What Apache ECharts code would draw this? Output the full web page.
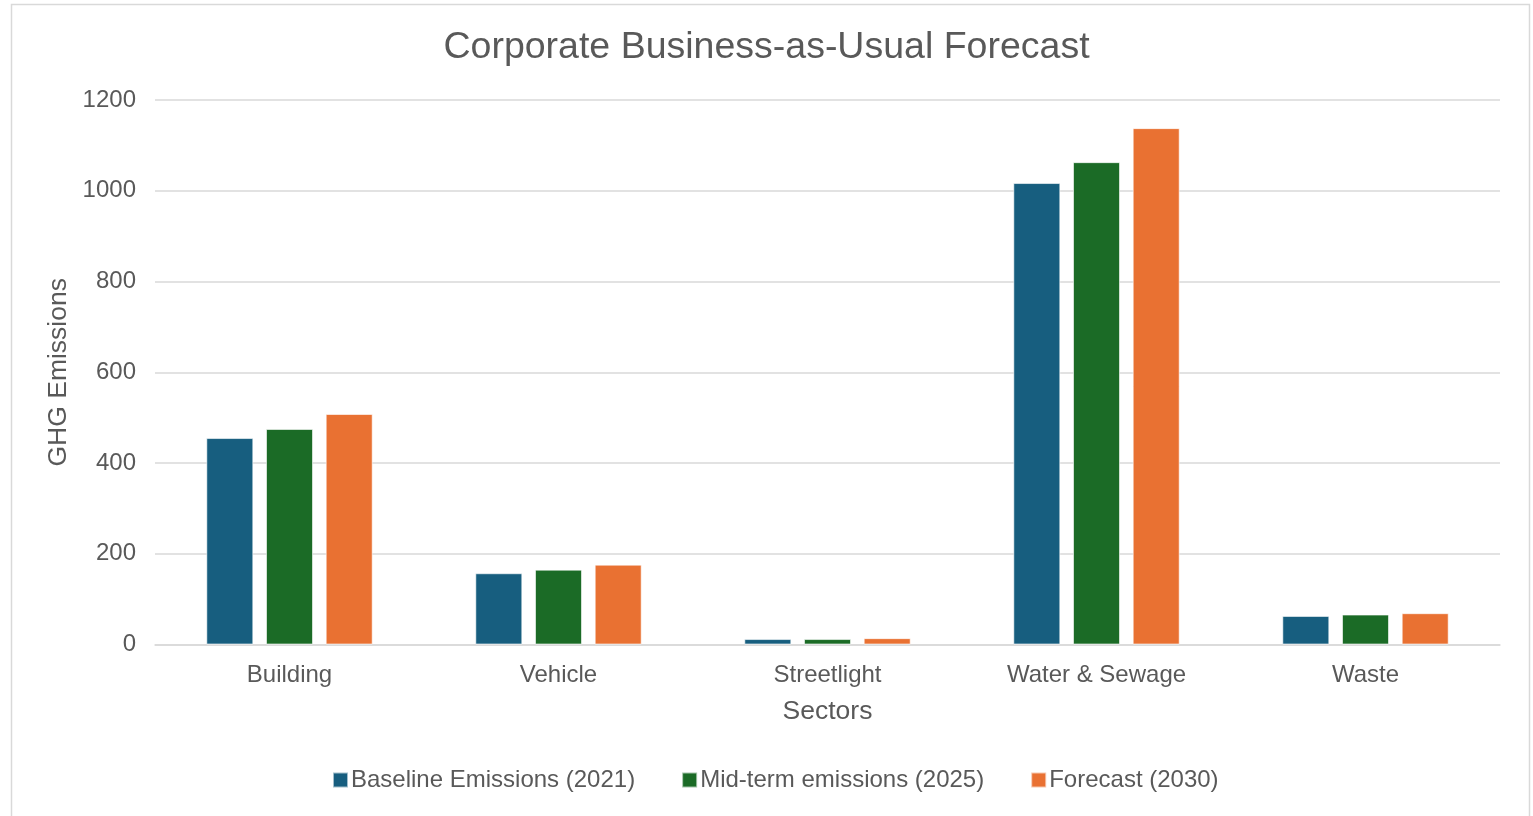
<!DOCTYPE html>
<html>
<head>
<meta charset="utf-8">
<title>Corporate Business-as-Usual Forecast</title>
<script src="https://cdn.jsdelivr.net/npm/echarts@6/dist/echarts.min.js"></script>
<style>
  html, body { margin: 0; padding: 0; background: #ffffff; }
  #chart { width: 1533px; height: 816px; }
</style>
</head>
<body>
<div id="chart"></div>
<script>
// Sectors and emissions per scenario
const sectors = ['Building', 'Vehicle', 'Streetlight', 'Water & Sewage', 'Waste'];
const seriesNames = ['Baseline Emissions (2021)', 'Mid-term emissions (2025)', 'Forecast (2030)'];
const baseline2021 = [455, 157, 12, 1017, 63];
const midterm2025 = [475, 165, 12, 1063, 66];
const forecast2030 = [508, 176, 14, 1138, 69];
const yTicks = { min: 0, max: 1200, interval: 200 };

const colors = ['#175e7f', '#1b6b26', '#e97132'];
const textGray = '#595959';
const fontFamily = '"Liberation Sans", Arial, sans-serif';

const chart = echarts.init(document.getElementById('chart'), null, { renderer: 'canvas' });

const values = [baseline2021, midterm2025, forecast2030];

chart.setOption({
  backgroundColor: '#ffffff',
  animation: false,
  textStyle: { fontFamily: fontFamily, color: textGray },
  graphic: [{
    type: 'rect',
    shape: { x: 11.5, y: 4.5, width: 1518, height: 830 },
    style: { fill: 'none', stroke: '#d9d9d9', lineWidth: 1.5 },
    silent: true,
    z: -1
  }],
  title: {
    text: 'Corporate Business-as-Usual Forecast',
    left: 'center',
    top: 24,
    textStyle: { fontFamily: fontFamily, fontSize: 37.5, fontWeight: 'normal', color: textGray }
  },
  legend: {
    bottom: 19,
    left: 327,
    itemWidth: 15,
    itemHeight: 15,
    itemGap: 46,
    icon: 'rect',
    data: seriesNames,
    textStyle: { fontFamily: fontFamily, fontSize: 24, color: textGray, padding: [0, 0, 0, -2] }
  },
  grid: { left: 155, right: 33, top: 100, bottom: 171.5, containLabel: false },
  xAxis: {
    type: 'category',
    data: sectors,
    name: 'Sectors',
    nameLocation: 'middle',
    nameGap: 54,
    nameTextStyle: { fontFamily: fontFamily, fontSize: 26.5, color: textGray },
    axisLine: { show: true, lineStyle: { color: '#d9d9d9', width: 1.5 } },
    axisTick: { show: false },
    axisLabel: { margin: 19, fontSize: 24, color: textGray, fontFamily: fontFamily }
  },
  yAxis: {
    type: 'value',
    min: yTicks.min,
    max: yTicks.max,
    interval: yTicks.interval,
    name: 'GHG Emissions',
    nameLocation: 'middle',
    nameGap: 70,
    nameTextStyle: { fontFamily: fontFamily, fontSize: 26.5, color: textGray },
    axisLine: { show: false },
    axisTick: { show: false },
    axisLabel: {
      margin: 19, fontSize: 24, color: textGray, fontFamily: fontFamily,
      formatter: (v) => String(v)
    },
    splitLine: { lineStyle: { color: '#d9d9d9', width: 1.5 } }
  },
  series: seriesNames.map((name, i) => ({
    name: name,
    type: 'bar',
    data: values[i],
    barWidth: 47,
    barGap: '27%',
    itemStyle: { color: colors[i], borderColor: 'rgba(255,255,255,0.6)', borderWidth: 1 }
  })),
  color: colors
});
</script>
</body>
</html>
